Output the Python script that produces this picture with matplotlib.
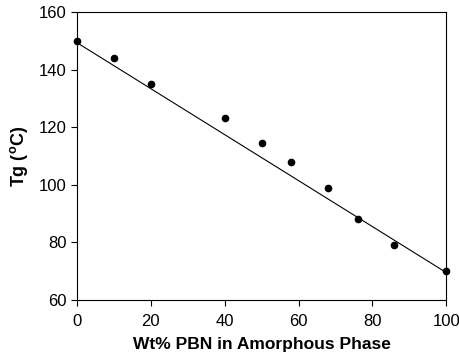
import matplotlib.pyplot as plt

plt.rcParams['font.family'] = ['Liberation Sans', 'DejaVu Sans']

wt_pbn = [0, 10, 20, 40, 50, 58, 68, 76, 86, 100]
tg = [150, 144, 135, 123, 114.5, 108, 99, 88, 79, 70]

# trend line as drawn in the original
fit_x = [0, 100]
fit_y = [149.3, 69.5]

fig = plt.figure(figsize=(4.59, 3.63), dpi=100)
ax = fig.add_axes([0.168, 0.174, 0.804, 0.793])

ax.plot(fit_x, fit_y, color='black', lw=0.8)
ax.plot(wt_pbn, tg, 'o', color='black', ms=4.5, clip_on=False, zorder=3)

ax.set_xlim(0, 100)
ax.set_ylim(60, 160)
ax.set_xticks(range(0, 101, 20))
ax.set_yticks(range(60, 161, 20))
ax.tick_params(labelsize=12, direction='out', length=4, width=0.8)
ax.tick_params(axis='x', pad=6)
for s in ax.spines.values():
    s.set_linewidth(0.8)

ax.set_xlabel('Wt% PBN in Amorphous Phase', fontsize=12.5, fontweight='bold', labelpad=6)
ax.set_ylabel(r'Tg ($^{\mathregular{o}}$C)', fontsize=13, fontweight='bold', labelpad=6)

fig.savefig('out.png', dpi=100)
